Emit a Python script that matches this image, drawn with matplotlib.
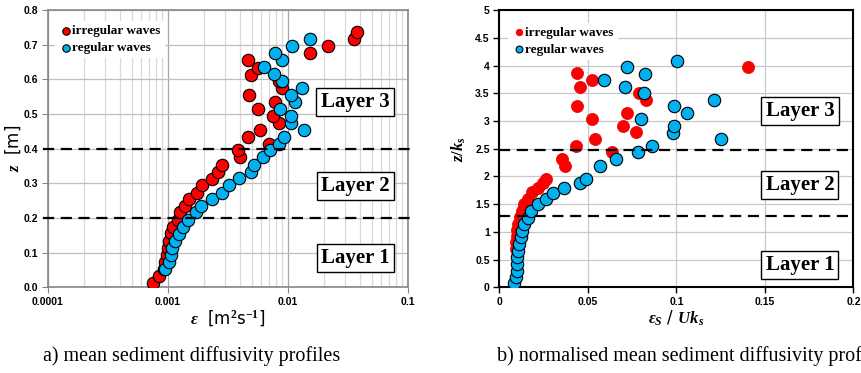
import matplotlib.pyplot as plt
from matplotlib.ticker import FixedLocator, NullFormatter, LogLocator
import numpy as np

plt.rcParams['mathtext.fontset'] = 'custom'
plt.rcParams['mathtext.rm'] = 'Liberation Serif:bold'
plt.rcParams['mathtext.bf'] = 'Liberation Serif:bold'
plt.rcParams['mathtext.it'] = 'Liberation Serif:bold:italic'

RED = '#ff0000'
BLUE = '#00b0f0'

# (a) mean sediment diffusivity profiles
z_irr = [0.013, 0.033, 0.054, 0.074, 0.094, 0.114, 0.135, 0.156, 0.175, 0.195,
         0.216, 0.235, 0.254, 0.273, 0.295, 0.313, 0.334, 0.354, 0.375, 0.395,
         0.415, 0.434, 0.455, 0.474, 0.494, 0.515, 0.535, 0.554, 0.575, 0.594,
         0.614, 0.634, 0.655, 0.676, 0.695, 0.716, 0.737]
eps_irr = [0.00075, 0.00084, 0.00092, 0.00095, 0.00098, 0.00100, 0.00103, 0.00107, 0.00111, 0.00121,
           0.00127, 0.00139, 0.00149, 0.00173, 0.00193, 0.00231, 0.00263, 0.00284, 0.0040, 0.00381,
           0.00699, 0.00464, 0.00585, 0.00836, 0.00755, 0.00566, 0.00774, 0.0047, 0.0090, 0.00846,
           0.00489, 0.00558, 0.00464, 0.0153, 0.0217, 0.0357, 0.0374]

z_reg = [0.053, 0.074, 0.094, 0.114, 0.135, 0.154, 0.175, 0.195, 0.216, 0.235,
         0.254, 0.273, 0.295, 0.315, 0.334, 0.354, 0.376, 0.395, 0.415, 0.434,
         0.455, 0.475, 0.495, 0.515, 0.536, 0.556, 0.575, 0.594, 0.616, 0.635,
         0.655, 0.676, 0.695, 0.717]
eps_reg = [0.00094, 0.00103, 0.00107, 0.00109, 0.00114, 0.00124, 0.00134, 0.00146, 0.00171, 0.00188,
           0.00231, 0.00282, 0.00324, 0.00391, 0.00494, 0.00524, 0.00616, 0.00712, 0.00847, 0.00931,
           0.01351, 0.0106, 0.0106, 0.00862, 0.01137, 0.0106, 0.01316, 0.00886, 0.0076, 0.00635,
           0.00886, 0.0078, 0.01086, 0.0153]

# (b) normalised profiles
zk_irr = [0.69, 0.81, 0.925, 1.033, 1.141, 1.273, 1.381, 1.502, 1.598, 1.713,
          1.796, 1.875, 1.947, 2.192, 2.313, 2.445, 2.547, 2.673, 2.794, 2.908,
          3.029, 3.148, 3.268, 3.377, 3.497, 3.617, 3.737, 3.858, 3.977]
en_irr = [0.0092, 0.0095, 0.0098, 0.0102, 0.0107, 0.0117, 0.0130, 0.0140, 0.0164, 0.0183,
          0.0217, 0.0245, 0.0262, 0.0371, 0.0356, 0.0639, 0.0433, 0.0539, 0.0771, 0.0701,
          0.0526, 0.0720, 0.0437, 0.0829, 0.0789, 0.0456, 0.0522, 0.0437, 0.1407]

zk_reg = [0.072, 0.18, 0.30, 0.415, 0.541, 0.654, 0.775, 0.901, 1.020, 1.141,
          1.255, 1.376, 1.496, 1.592, 1.706, 1.785, 1.875, 1.947, 2.192, 2.318,
          2.434, 2.547, 2.673, 2.787, 2.908, 3.029, 3.148, 3.263, 3.377, 3.497,
          3.617, 3.732, 3.851, 3.966, 4.085]
en_reg = [0.0083, 0.0093, 0.0098, 0.0098, 0.0102, 0.0106, 0.0111, 0.0121, 0.0130, 0.0141,
          0.0164, 0.0179, 0.0220, 0.0262, 0.0305, 0.0367, 0.0456, 0.0488, 0.0567, 0.0659,
          0.0785, 0.0864, 0.1254, 0.0983, 0.0989, 0.0802, 0.1059, 0.0989, 0.1213, 0.0818,
          0.0708, 0.0592, 0.0823, 0.0723, 0.1006]

layer_lines_a = [0.2, 0.4]
layer_lines_b = [1.28, 2.475]

fig = plt.figure(figsize=(8.61, 3.73), dpi=100)
ax1 = fig.add_axes([0.0557, 0.2297, 0.4181, 0.7432])
ax2 = fig.add_axes([0.580, 0.2297, 0.4112, 0.7432])

tickfont = dict(family='Liberation Sans', weight='bold', size=7.5)
serif_b = dict(family='Liberation Serif', weight='bold')

# ---- left panel
ax1.set_xscale('log')
ax1.set_xlim(1e-4, 1e-1)
ax1.set_ylim(0, 0.8)
ax1.xaxis.set_major_locator(FixedLocator([1e-4, 1e-3, 1e-2, 1e-1]))
ax1.xaxis.set_minor_locator(LogLocator(base=10, subs=np.arange(2, 10)))
ax1.xaxis.set_minor_formatter(NullFormatter())
ax1.set_xticklabels(['0.0001', '0.001', '0.01', '0.1'], **tickfont)
ax1.set_yticks(np.arange(0, 0.81, 0.1))
ax1.set_yticklabels(['%.1f' % v for v in np.arange(0, 0.81, 0.1)], **tickfont)
ax1.grid(True, which='major', axis='x', color='#a6a6a6', lw=0.9)
ax1.grid(True, which='minor', axis='x', color='#d9d9d9', lw=0.9)
ax1.grid(True, which='major', axis='y', color='#bfbfbf', lw=0.9)
ax1.set_axisbelow(True)
for s in ax1.spines.values():
    s.set_color('#868686')
    s.set_linewidth(1.2)
ax1.tick_params(which='both', color='#868686', length=4, direction='out', pad=3)
ax1.tick_params(which='minor', length=0)

ax1.scatter(eps_irr, z_irr, s=80, c=RED, edgecolors='black', linewidths=0.8, zorder=3,
            label='irregular waves')
ax1.scatter(eps_reg, z_reg, s=80, c=BLUE, edgecolors='black', linewidths=0.8, zorder=4,
            label='regular waves')
for y in layer_lines_a:
    ax1.plot([-0.014, 1.014], [y, y], transform=ax1.get_yaxis_transform(), color='black',
             lw=1.6, ls=(0, (5, 3)), clip_on=False, zorder=5)

ax1.set_xlabel(r'$\varepsilon$  [m$^{2}$s$^{-1}$]', fontsize=12, labelpad=1)
ax1.set_ylabel(r'$z$  [m]', fontsize=12)
ax1.yaxis.set_label_coords(-0.07, 0.5)

boxstyle = dict(boxstyle='square,pad=0.2', fc='white', ec='black', lw=1)
for yy, lab in [(0.668, 'Layer 3'), (0.365, 'Layer 2'), (0.106, 'Layer 1')]:
    ax1.text(0.853, yy, lab, transform=ax1.transAxes, ha='center', va='center',
             fontsize=15, bbox=boxstyle, zorder=6, **serif_b)

leg1 = ax1.legend(loc='upper left', bbox_to_anchor=(0.02, 0.96), frameon=True,
                  prop=dict(family='Liberation Serif', weight='bold', size=9.5),
                  handletextpad=0.0, handlelength=1.0, borderpad=0.3, labelspacing=0.35,
                  markerscale=0.6, borderaxespad=0)
leg1.get_frame().set_edgecolor('none')
leg1.get_frame().set_facecolor('white')
leg1.get_frame().set_alpha(1)
leg1.set_zorder(7)

# ---- right panel
ax2.set_xlim(0, 0.2)
ax2.set_ylim(0, 5)
ax2.set_xticks([0, 0.05, 0.1, 0.15, 0.2])
ax2.set_xticklabels(['0', '0.05', '0.1', '0.15', '0.2'], **tickfont)
ax2.set_yticks(np.arange(0, 5.01, 0.5))
ax2.set_yticklabels(['0', '0.5', '1', '1.5', '2', '2.5', '3', '3.5', '4', '4.5', '5'], **tickfont)
ax2.grid(True, color='#c8c8c8', lw=0.9)
ax2.set_axisbelow(True)
for s in ax2.spines.values():
    s.set_color('black')
    s.set_linewidth(1.5)
ax2.tick_params(length=4, direction='out', pad=3, width=1)

ax2.scatter(en_irr, zk_irr, s=76, c=RED, edgecolors='#e00000', linewidths=0.5, zorder=3,
            label='irregular waves')
ax2.scatter(en_reg, zk_reg, s=80, c=BLUE, edgecolors='black', linewidths=0.8, zorder=4,
            label='regular waves')
for y in layer_lines_b:
    ax2.plot([0, 1], [y, y], transform=ax2.get_yaxis_transform(), color='black',
             lw=1.6, ls=(0, (5, 3)), clip_on=False, zorder=5)

ax2.set_xlabel(r'$\varepsilon_S$ / $Uk_s$', fontsize=12, labelpad=1)
ax2.set_ylabel(r'$z/k_s$', fontsize=12)
ax2.yaxis.set_label_coords(-0.088, 0.5)

for yy, lab in [(0.636, 'Layer 3'), (0.369, 'Layer 2'), (0.080, 'Layer 1')]:
    ax2.text(0.849, yy, lab, transform=ax2.transAxes, ha='center', va='center',
             fontsize=15, bbox=boxstyle, zorder=6, **serif_b)

leg2 = ax2.legend(loc='upper left', bbox_to_anchor=(0.025, 0.955), frameon=True,
                  prop=dict(family='Liberation Serif', weight='bold', size=9.5),
                  handletextpad=0.0, handlelength=1.0, borderpad=0.3, labelspacing=0.35,
                  markerscale=0.55, borderaxespad=0)
leg2.get_frame().set_edgecolor('none')
leg2.get_frame().set_facecolor('white')
leg2.get_frame().set_alpha(1)
leg2.set_zorder(7)

# captions (the right one runs past the figure edge, as in the source)
fig.text(43 / 861, 1 - 356 / 373, 'a) mean sediment diffusivity profiles', ha='left',
         va='center', family='Liberation Serif', fontsize=14.5)
fig.text(497 / 861, 1 - 356 / 373, 'b) normalised mean sediment diffusivity profiles',
         ha='left', va='center', family='Liberation Serif', fontsize=14.5)

fig.savefig('out.png', dpi=100)
